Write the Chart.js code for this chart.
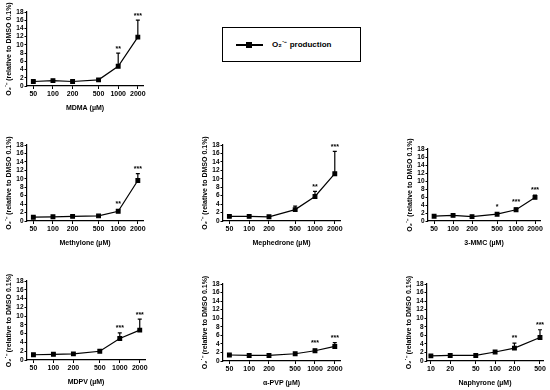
<!DOCTYPE html>
<html lang="en">
<head>
    <meta charset="UTF-8">
    <title>O2 production</title>
    <script src="https://cdn.jsdelivr.net/npm/chart.js"></script>
    <style>
        body {
            margin: 0;
            background: #fff;
            font-family: 'Liberation Sans', Arial, sans-serif;
        }
        .stage {
            position: relative;
            width: 550px;
            height: 390px;
            overflow: hidden;
        }
        .stage canvas {
            position: absolute;
        }
        .legend-box {
            position: absolute;
            left: 222px;
            top: 27px;
            width: 137px;
            height: 33px;
            border: 1.5px solid #000;
        }
        .legend-line {
            position: absolute;
            left: 13px;
            top: 16px;
            width: 27px;
            height: 2px;
            background: #000;
        }
        .legend-mark {
            position: absolute;
            left: 10px;
            top: -2px;
            width: 6px;
            height: 6px;
            background: #000;
        }
        .legend-text {
            position: absolute;
            left: 49px;
            top: 10px;
            font-size: 8px;
            font-weight: bold;
        }
    </style>
</head>
<body>
<div class="stage" id="stage">
    <div class="legend-box">
        <div class="legend-line"><div class="legend-mark"></div></div>
        <div class="legend-text">O₂˙⁻ production</div>
    </div>
</div>

<script>
    // concentrations (µM)
    const concMain = [50, 100, 200, 500, 1000, 2000];
    const concNaph = [10, 20, 50, 100, 200, 500];
    const yTicks = [0, 2, 4, 6, 8, 10, 12, 14, 16, 18];

    // mean values (relative to DMSO 0.1%) and upper error bars
    const mdmaMean = [1.1, 1.3, 1.1, 1.5, 4.8, 11.9];
    const mdmaErr = [0.2, 0.2, 0.2, 0.2, 3.2, 4.1];
    const mdmaStars = ['', '', '', '', '**', '***'];

    const methyloneMean = [0.9, 1.0, 1.1, 1.2, 2.3, 9.6];
    const methyloneErr = [0.1, 0.1, 0.1, 0.1, 0.3, 1.6];
    const methyloneStars = ['', '', '', '', '**', '***'];

    const mephedroneMean = [1.1, 1.1, 1.0, 2.7, 5.8, 11.2];
    const mephedroneErr = [0.1, 0.1, 0.1, 0.8, 1.2, 5.3];
    const mephedroneStars = ['', '', '', '', '**', '***'];

    const mmcMean = [1.2, 1.4, 1.1, 1.7, 2.8, 5.9];
    const mmcErr = [0.1, 0.1, 0.1, 0.3, 0.4, 0.6];
    const mmcStars = ['', '', '', '*', '***', '***'];

    const mdpvMean = [1.2, 1.3, 1.4, 2.0, 4.9, 6.8];
    const mdpvErr = [0.1, 0.1, 0.1, 0.3, 1.3, 2.5];
    const mdpvStars = ['', '', '', '', '***', '***'];

    const pvpMean = [1.4, 1.3, 1.3, 1.7, 2.4, 3.4];
    const pvpErr = [0.1, 0.1, 0.1, 0.2, 0.3, 0.9];
    const pvpStars = ['', '', '', '', '***', '***'];

    const naphMean = [1.2, 1.3, 1.3, 2.1, 3.0, 5.5];
    const naphErr = [0.1, 0.1, 0.1, 0.3, 1.2, 1.8];
    const naphStars = ['', '', '', '', '**', '***'];

    const names = ['MDMA', 'Methylone', 'Mephedrone', '3-MMC', 'MDPV', 'α-PVP', 'Naphyrone'];
    const concs = [concMain, concMain, concMain, concMain, concMain, concMain, concNaph];
    const means = [mdmaMean, methyloneMean, mephedroneMean, mmcMean, mdpvMean, pvpMean, naphMean];
    const errs = [mdmaErr, methyloneErr, mephedroneErr, mmcErr, mdpvErr, pvpErr, naphErr];
    const stars = [mdmaStars, methyloneStars, mephedroneStars, mmcStars, mdpvStars, pvpStars, naphStars];

    // panel placement: y axis x, top of plot, bottom of plot, right end, x range
    const layoutBoxes = [
        { axisX: 27, top: 12, bottom: 86, right: 143, xmin: 40, xmax: 2400 },
        { axisX: 27, top: 145, bottom: 221, right: 143, xmin: 40, xmax: 2400 },
        { axisX: 223, top: 145, bottom: 221, right: 340, xmin: 40, xmax: 2400 },
        { axisX: 428, top: 149, bottom: 221, right: 540, xmin: 40, xmax: 2400 },
        { axisX: 27, top: 281, bottom: 360, right: 145, xmin: 40, xmax: 2400 },
        { axisX: 223, top: 284, bottom: 361, right: 340, xmin: 40, xmax: 2400 },
        { axisX: 427, top: 284, bottom: 361, right: 543, xmin: 8.7, xmax: 557 }
    ];

    const FONT = "'Liberation Sans', Arial, sans-serif";
    const Y_W = 27, PAD_TOP = 12, X_H = 30, PAD_R = 8;

    const errorBars = {
        id: 'errorBars',
        afterDatasetsDraw(chart, args, opts) {
            const ctx = chart.ctx;
            const xs = chart.scales.x, ys = chart.scales.y;
            ctx.save();
            ctx.strokeStyle = '#000';
            ctx.fillStyle = '#000';
            ctx.lineWidth = 1.2;
            opts.x.forEach((xv, i) => {
                const px = xs.getPixelForValue(xv);
                const pm = ys.getPixelForValue(opts.mean[i]);
                const pt = ys.getPixelForValue(opts.mean[i] + opts.err[i]);
                ctx.beginPath();
                ctx.moveTo(px, pm);
                ctx.lineTo(px, pt);
                ctx.moveTo(px - 2, pt);
                ctx.lineTo(px + 2, pt);
                ctx.stroke();
                if (opts.stars[i]) {
                    ctx.font = 'bold 7px ' + FONT;
                    ctx.textAlign = 'center';
                    ctx.textBaseline = 'bottom';
                    ctx.fillText(opts.stars[i], px, Math.min(pt, pm - 3) - 1);
                }
            });
            ctx.restore();
        }
    };

    const stage = document.getElementById('stage');

    names.forEach((name, k) => {
        const b = layoutBoxes[k];
        const cv = document.createElement('canvas');
        const left = b.axisX - Y_W;
        const top = b.top - PAD_TOP;
        const w = b.right + PAD_R - left;
        const h = PAD_TOP + (b.bottom - b.top) + X_H;
        cv.width = w;
        cv.height = h;
        cv.style.left = left + 'px';
        cv.style.top = top + 'px';
        cv.style.width = w + 'px';
        cv.style.height = h + 'px';
        stage.appendChild(cv);

        const xv = concs[k];
        new Chart(cv.getContext('2d'), {
            type: 'line',
            data: {
                datasets: [{
                    data: xv.map((c, i) => ({ x: c, y: means[k][i] })),
                    borderColor: '#000',
                    backgroundColor: '#000',
                    borderWidth: 1.2,
                    pointStyle: 'rect',
                    pointRadius: 2.6,
                    tension: 0
                }]
            },
            options: {
                responsive: false,
                animation: false,
                devicePixelRatio: 1,
                layout: { padding: { top: PAD_TOP, right: PAD_R, left: 0, bottom: 0 } },
                plugins: {
                    legend: { display: false },
                    tooltip: { enabled: false },
                    errorBars: { x: xv, mean: means[k], err: errs[k], stars: stars[k] }
                },
                scales: {
                    x: {
                        type: 'logarithmic',
                        min: b.xmin,
                        max: b.xmax,
                        afterBuildTicks: s => { s.ticks = xv.map(v => ({ value: v })); },
                        afterFit: s => { s.height = X_H; },
                        ticks: {
                            autoSkip: false,
                            maxRotation: 0,
                            padding: 1,
                            color: '#000',
                            font: { family: FONT, size: 7, weight: 'bold' },
                            callback: v => String(v)
                        },
                        grid: { drawOnChartArea: false, tickLength: 3, color: '#000', tickWidth: 1 },
                        border: { color: '#000', width: 1.2 },
                        title: {
                            display: true,
                            text: name + ' (µM)',
                            color: '#000',
                            font: { family: FONT, size: 7, weight: 'bold' },
                            padding: { top: 0, bottom: 4 }
                        }
                    },
                    y: {
                        min: 0,
                        max: 18,
                        afterBuildTicks: s => { s.ticks = yTicks.map(v => ({ value: v })); },
                        afterFit: s => { s.width = Y_W; },
                        ticks: {
                            autoSkip: false,
                            padding: 1,
                            color: '#000',
                            font: { family: FONT, size: 6.5, weight: 'bold' }
                        },
                        grid: { drawOnChartArea: false, tickLength: 2.5, color: '#000', tickWidth: 1 },
                        border: { color: '#000', width: 1.2 },
                        title: {
                            display: true,
                            text: 'O₂˙⁻ (relative to DMSO 0.1%)',
                            color: '#000',
                            font: { family: FONT, size: 7, weight: 'bold' },
                            padding: { top: 5, bottom: 0 }
                        }
                    }
                }
            },
            plugins: [errorBars]
        });
    });
</script>
</body>
</html>
